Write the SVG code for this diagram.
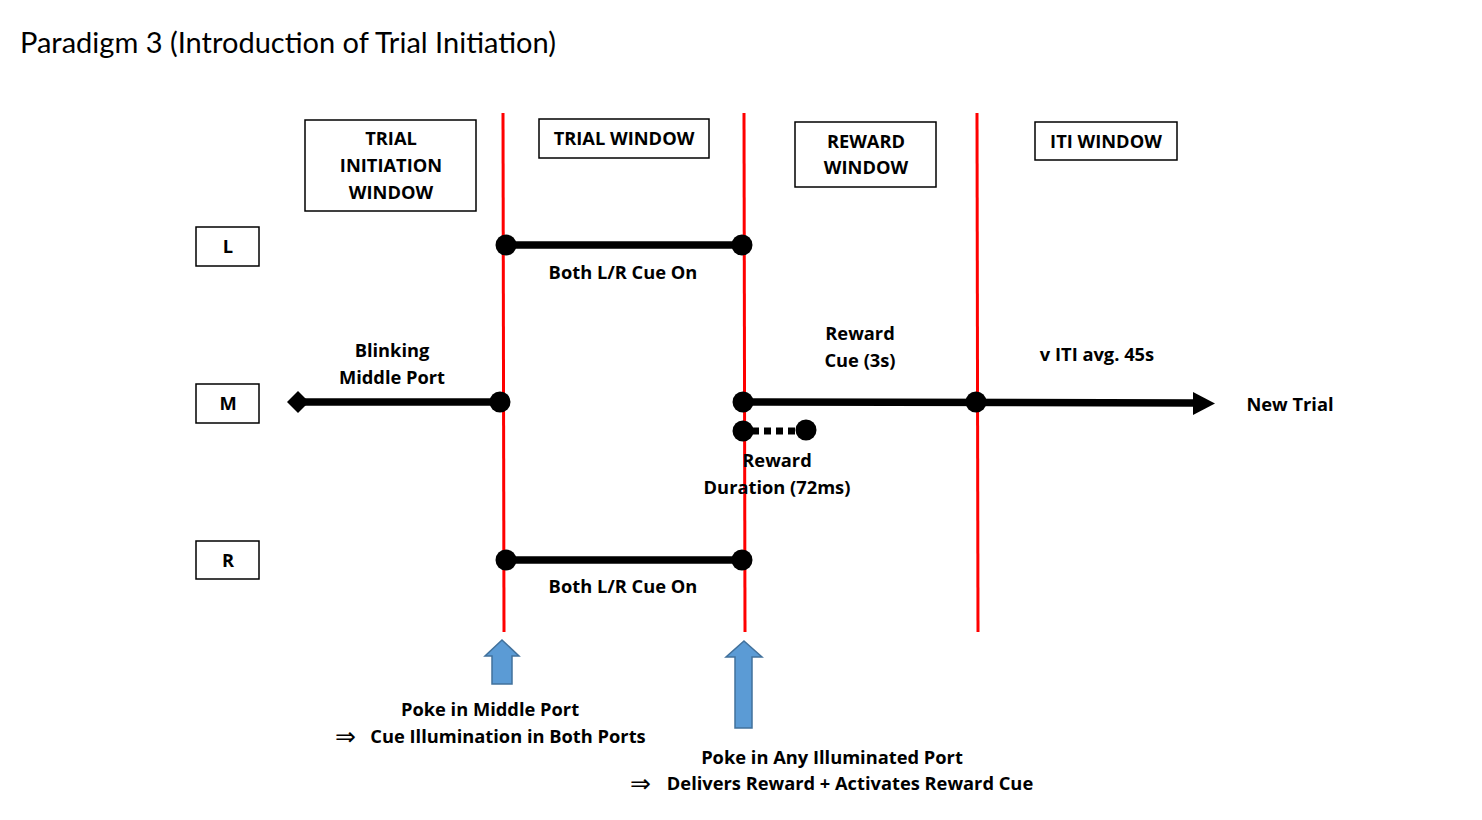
<svg xmlns="http://www.w3.org/2000/svg" width="1482" height="820" viewBox="0 0 1482 820">
<defs>
<style>
.t{font-family:"Open Sans",Lato,"Liberation Sans",sans-serif;font-weight:bold;font-size:18.3px;fill:#000;text-anchor:middle}
.box{fill:#fff;stroke:#000;stroke-width:1.5}
.red{stroke:#ff0000;stroke-width:3;fill:none}
.bar{stroke:#000;stroke-width:7.5;fill:none}
.blue{fill:#5b9bd5;stroke:#41719c;stroke-width:1.5}
.imp{font-family:"DejaVu Sans",sans-serif;font-size:25px;fill:#000}
</style>
</defs>
<rect width="1482" height="820" fill="#fff"/>
<text x="20" y="53" textLength="536" style="font-family:Lato,'Open Sans','Liberation Sans',sans-serif;font-size:29px;fill:#000">Paradigm 3 (Introduction of Trial Initiation)</text>

<g id="windows">
<g id="win-init"><rect class="box" x="305" y="120" width="171" height="91"/><text class="t" x="391" y="145">TRIAL</text><text class="t" x="391" y="172">INITIATION</text><text class="t" x="391" y="199">WINDOW</text></g>
<g id="win-trial"><rect class="box" x="539" y="119" width="170" height="39"/><text class="t" x="624" y="145">TRIAL WINDOW</text></g>
<g id="win-reward"><rect class="box" x="795" y="122" width="141" height="65"/><text class="t" x="866" y="148">REWARD</text><text class="t" x="866" y="174">WINDOW</text></g>
<g id="win-iti"><rect class="box" x="1035" y="122" width="142" height="38"/><text class="t" x="1106" y="148">ITI WINDOW</text></g>
</g>

<g id="ports">
<g id="port-L"><rect class="box" x="196" y="227" width="63" height="39"/><text class="t" x="228" y="253">L</text></g>
<g id="port-M"><rect class="box" x="196" y="384" width="63" height="39"/><text class="t" x="228" y="410">M</text></g>
<g id="port-R"><rect class="box" x="196" y="541" width="63" height="38"/><text class="t" x="228" y="567">R</text></g>
</g>

<g id="dividers">
<line class="red" x1="503" y1="113" x2="504" y2="632"/>
<line class="red" x1="744" y1="113" x2="745" y2="632"/>
<line class="red" x1="977" y1="113" x2="978" y2="632"/>
</g>

<g id="connectors">
<line class="bar" x1="506" y1="245" x2="742" y2="245"/>
<circle cx="506" cy="245" r="10.5"/><circle cx="742" cy="245" r="10.5"/>
<line class="bar" x1="298" y1="402" x2="500" y2="402"/>
<path d="M298,391 L309,402 L298,413 L287,402 Z"/>
<circle cx="500" cy="402" r="10.5"/>
<line class="bar" x1="743" y1="402" x2="1196" y2="403"/>
<path d="M1193,392 L1215,403.5 L1193,415 Z"/>
<circle cx="743" cy="402" r="10.5"/><circle cx="976" cy="402" r="10.5"/>
<line x1="752" y1="431" x2="798" y2="431" stroke="#000" stroke-width="7" stroke-dasharray="7,5"/>
<circle cx="743" cy="431" r="10.5"/><circle cx="806" cy="430" r="10.5"/>
<line class="bar" x1="506" y1="560" x2="742" y2="560"/>
<circle cx="506" cy="560" r="10.5"/><circle cx="742" cy="560" r="10.5"/>
</g>

<g id="labels">
<text class="t" x="623" y="279">Both L/R Cue On</text>
<text class="t" x="392" y="357">Blinking</text>
<text class="t" x="392" y="384">Middle Port</text>
<text class="t" x="860" y="340">Reward</text>
<text class="t" x="860" y="367">Cue (3s)</text>
<text class="t" x="1097" y="361">v ITI avg. 45s</text>
<text class="t" x="1290" y="411">New Trial</text>
<text class="t" x="777" y="467">Reward</text>
<text class="t" x="777" y="494">Duration (72ms)</text>
<text class="t" x="623" y="593">Both L/R Cue On</text>
</g>

<g id="pokes">
<path class="blue" d="M502,640 L519,656 L512,656 L512,684 L492,684 L492,656 L485,656 Z"/>
<path class="blue" d="M744,641 L762,657 L752,657 L752,728 L735,728 L735,657 L726,657 Z"/>
<text class="t" x="490" y="716">Poke in Middle Port</text>
<text class="imp" x="335" y="745">⇒</text>
<text class="t" x="508" y="743">Cue Illumination in Both Ports</text>
<text class="t" x="832" y="764">Poke in Any Illuminated Port</text>
<text class="imp" x="630" y="792">⇒</text>
<text class="t" x="850" y="790">Delivers Reward + Activates Reward Cue</text>
</g>
</svg>
